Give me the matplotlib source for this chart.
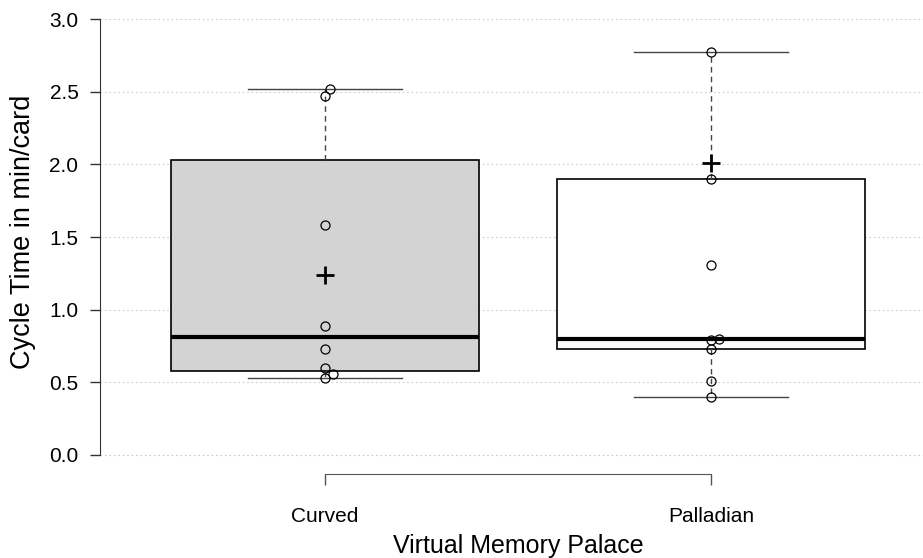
import matplotlib
matplotlib.use("Agg")
import matplotlib.pyplot as plt

plt.rcParams['font.family'] = ['Liberation Sans', 'DejaVu Sans']

# ---- data ----
categories = ["Curved", "Palladian"]
q1 = [0.58, 0.73]
medians = [0.81, 0.80]
q3 = [2.03, 1.90]
whisker_low = [0.53, 0.40]
whisker_high = [2.52, 2.77]
means = [1.24, 2.01]
curved_points = [2.52, 2.47, 1.58, 0.89, 0.73, 0.60, 0.56, 0.53]
curved_jitter = [0.013, 0.0, 0.0, 0.0, 0.0, 0.0, 0.021, 0.0]
palladian_points = [2.77, 1.90, 1.31, 0.79, 0.80, 0.73, 0.51, 0.40]
palladian_jitter = [0.0, 0.0, 0.0, 0.0, 0.021, 0.0, 0.0, 0.0]
box_colors = ["#d3d3d3", "#ffffff"]
y_ticks = [0.0, 0.5, 1.0, 1.5, 2.0, 2.5, 3.0]
y_label = "Cycle Time in min/card"
x_label = "Virtual Memory Palace"

W, H = 923, 558
fig = plt.figure(figsize=(W / 100, H / 100), dpi=100)
# axes in pixel coords: left 100, right 923, top 19 (y=3), bottom 474
ax = fig.add_axes([100 / W, 1 - 474 / H, (923 - 100) / W, (474 - 19) / H])

px_per_unit_y = (455 - 19) / 3.0
ax.set_ylim(-(474 - 455) / px_per_unit_y, 3.0)
px_per_unit_x = 711 - 325
ax.set_xlim(1 - (325 - 100) / px_per_unit_x, 2 + (923 - 711) / px_per_unit_x)

# grid
for t in y_ticks:
    ax.axhline(t, color="#cccccc", lw=0.8, ls=(0, (1.5, 2.5)), zorder=0)

stats = []
for i, name in enumerate(categories):
    stats.append(dict(label=name, q1=q1[i], med=medians[i], q3=q3[i],
                      whislo=whisker_low[i], whishi=whisker_high[i], fliers=[]))

bp = ax.bxp(stats, positions=[1, 2], widths=0.8, patch_artist=True,
            showfliers=False, zorder=2,
            boxprops=dict(edgecolor="black", linewidth=1.2),
            medianprops=dict(color="black", linewidth=3.0, solid_capstyle="butt"),
            whiskerprops=dict(color="#444444", linewidth=1.0, ls=(0, (4, 3))),
            capprops=dict(color="#444444", linewidth=1.0),
            capwidths=0.4)
for patch, c in zip(bp['boxes'], box_colors):
    patch.set_facecolor(c)

for pos, pts, jit in [(1, curved_points, curved_jitter), (2, palladian_points, palladian_jitter)]:
    ax.plot([pos + j for j in jit], pts, "o", mfc="none", mec="black", ms=6.5, mew=0.9, zorder=4, ls="none")

ax.plot([1, 2], means, "+", color="black", ms=13, mew=2.0, zorder=5, ls="none")

# axes styling (R-like)
for s in ["top", "right"]:
    ax.spines[s].set_visible(False)
ax.spines["left"].set_bounds(0, 3)
ax.spines["bottom"].set_bounds(1, 2)
ax.spines["left"].set_color("#333333")
ax.spines["bottom"].set_color("#555555")
ax.set_yticks(y_ticks)
ax.set_yticklabels([f"{t:.1f}" for t in y_ticks], fontsize=15)
ax.set_xticks([1, 2])
ax.set_xticklabels(categories, fontsize=15)
ax.tick_params(axis="y", length=7.5, width=1, color="#333333", pad=8)
ax.tick_params(axis="x", length=8, width=1, color="#555555", pad=16, direction="out")
ax.set_ylabel(y_label, fontsize=19.5)
ax.yaxis.label.set_va("center")
ax.yaxis.set_label_coords((23 - 100) / 823, (474 - 232) / 455)
ax.set_xlabel(x_label, fontsize=18)
ax.xaxis.label.set_va("center")
ax.xaxis.set_label_coords((518 - 100) / 823, (474 - 546) / 455)

fig.savefig("out.png", dpi=100)
